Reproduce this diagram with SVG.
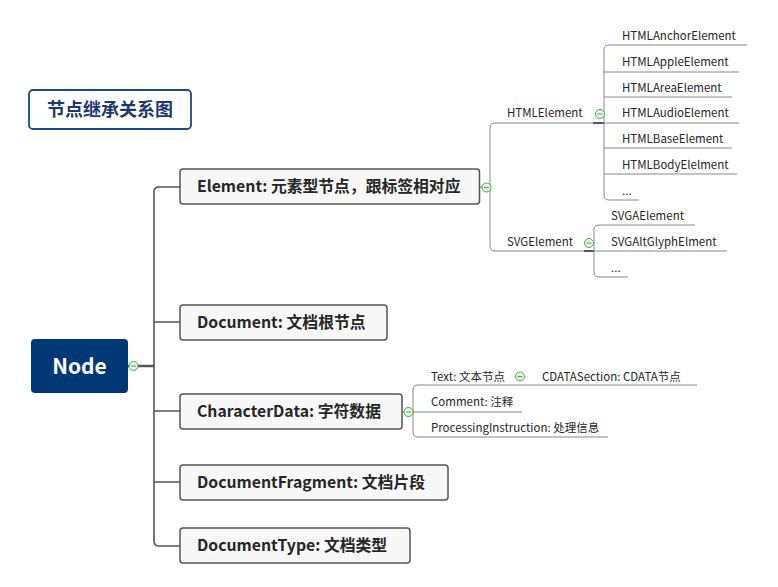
<svg xmlns="http://www.w3.org/2000/svg" width="778" height="587" viewBox="0 0 778 587">
<style>
text{font-family:"Noto Sans CJK SC","Noto Sans",sans-serif;}
.box{fill:#f7f7f7;stroke:#555;stroke-width:1.5;}
.main{font-size:15.8px;font-weight:bold;fill:#262626;}
.sub{font-size:11.5px;fill:#262626;}
.trunk{fill:none;stroke:#555;stroke-width:1.6;}
.thin{fill:none;stroke:#888;stroke-width:1;}
.tog circle{fill:#e9f7e9;stroke:#43b043;stroke-width:1;}
.tog line{stroke:#43b043;stroke-width:1;}
</style>
<rect width="778" height="587" fill="#ffffff"/>
<g id="title">
<rect x="29" y="90" width="162" height="39" rx="4" fill="#fff" stroke="#1a4a8a" stroke-width="1.8"/>
<text x="110" y="115.5" text-anchor="middle" style="font-size:18px;font-weight:bold;fill:#1a3a6e">节点继承关系图</text>
</g>
<g id="connectors">
<path class="trunk" d="M127,366 H154" style="stroke-width:2.5"/>
<path class="trunk" d="M180,187 H159 Q154,187 154,192 V541 Q154,546 159,546 H180"/>
<path class="trunk" d="M154,322 H180 M154,411 H180 M154,482 H180"/>
<path class="thin" d="M480,187 H487"/>
<path class="thin" d="M603,123 H495 Q490,123 490,128 V246 Q490,251 495,251 H594"/>
<path class="trunk" d="M593,123 H604 M584,251 H594" style="stroke-width:2"/>
<path class="thin" d="M747,45 H609 Q604,45 604,50 V195 Q604,200 609,200 H639"/>
<path class="thin" d="M604,72 H739 M604,97 H732 M604,123 H739 M604,148 H732 M604,174 H737"/>
<path class="thin" d="M695,225 H599 Q594,225 594,230 V272 Q594,277 599,277 H628"/>
<path class="thin" d="M594,251 H727"/>
<path class="thin" d="M402,412 H413"/>
<path class="thin" d="M697,385 H418 Q413,385 413,390 V432 Q413,437 418,437 H608"/>
<path class="thin" d="M413,412 H522"/>
</g>
<g id="node-root">
<rect x="31" y="339" width="97" height="54" rx="4" fill="#003876"/>
<text x="79.5" y="373.5" text-anchor="middle" style="font-size:21px;font-weight:bold;fill:#fff">Node</text>
</g>
<g id="node-element">
<rect class="box" x="180" y="169" width="299.5" height="35" rx="3"/>
<text class="main" x="197" y="192">Element: 元素型节点，跟标签相对应</text>
</g>
<g id="node-document">
<rect class="box" x="180" y="305" width="207" height="35" rx="3"/>
<text class="main" x="197" y="328">Document: 文档根节点</text>
</g>
<g id="node-characterdata">
<rect class="box" x="180" y="394" width="222" height="35" rx="3"/>
<text class="main" x="197" y="417">CharacterData: 字符数据</text>
</g>
<g id="node-documentfragment">
<rect class="box" x="180" y="465" width="268" height="35" rx="3"/>
<text class="main" x="197" y="488">DocumentFragment: 文档片段</text>
</g>
<g id="node-documenttype">
<rect class="box" x="180" y="528" width="230" height="35" rx="3"/>
<text class="main" x="197" y="551">DocumentType: 文档类型</text>
</g>
<g id="node-htmlelement"><text class="sub" x="507" y="117">HTMLElement</text></g>
<g id="node-svgelement"><text class="sub" x="507" y="246">SVGElement</text></g>
<g id="node-html-children">
<text class="sub" x="622" y="40">HTMLAnchorElement</text>
<text class="sub" x="622" y="66">HTMLAppleElement</text>
<text class="sub" x="622" y="92">HTMLAreaElement</text>
<text class="sub" x="622" y="117">HTMLAudioElement</text>
<text class="sub" x="622" y="143">HTMLBaseElement</text>
<text class="sub" x="622" y="169">HTMLBodyElelment</text>
<text class="sub" x="622" y="195">...</text>
</g>
<g id="node-svg-children">
<text class="sub" x="611" y="220">SVGAElement</text>
<text class="sub" x="611" y="246">SVGAltGlyphElment</text>
<text class="sub" x="611" y="272">...</text>
</g>
<g id="node-cd-children">
<text class="sub" x="431" y="381">Text: 文本节点</text>
<text class="sub" x="542" y="381">CDATASection: CDATA节点</text>
<text class="sub" x="431" y="406">Comment: 注释</text>
<text class="sub" x="431" y="432">ProcessingInstruction: 处理信息</text>
</g>
<g id="toggles" class="tog">
<circle cx="133.5" cy="366" r="4.5"/><line x1="131" y1="366" x2="136" y2="366"/>
<circle cx="486.5" cy="187.5" r="4.5"/><line x1="484" y1="187.5" x2="489" y2="187.5"/>
<circle cx="600" cy="114" r="4.5"/><line x1="597.5" y1="114" x2="602.5" y2="114"/>
<circle cx="589" cy="243" r="4.5"/><line x1="586.5" y1="243" x2="591.5" y2="243"/>
<circle cx="408.5" cy="412" r="4.5"/><line x1="406" y1="412" x2="411" y2="412"/>
<circle cx="520" cy="376.5" r="4.5"/><line x1="517.5" y1="376.5" x2="522.5" y2="376.5"/>
</g>
</svg>
